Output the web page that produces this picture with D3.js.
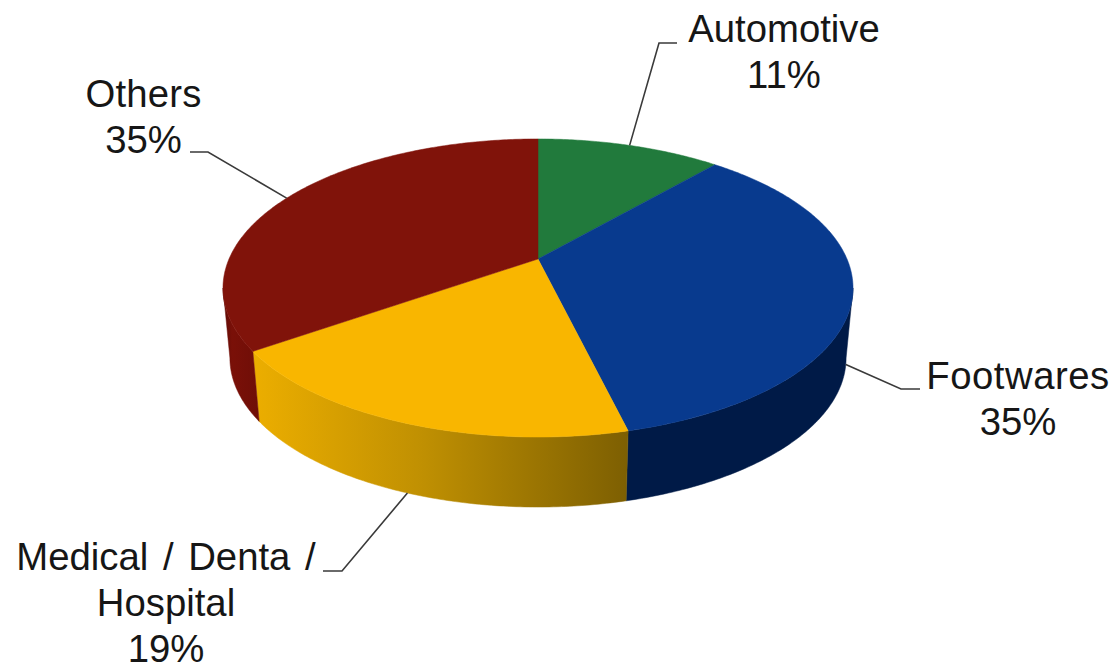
<!DOCTYPE html>
<html>
<head>
<meta charset="utf-8">
<script src="https://cdn.jsdelivr.net/npm/d3@7"></script>
<style>
html,body{margin:0;padding:0;background:#fff;overflow:hidden}
text{font-family:"Liberation Sans",Arial,sans-serif;font-size:38.3px;fill:#161616}
</style>
</head>
<body>
<svg id="chart" width="1117" height="666"></svg>
<script>
// Data
const categories = ["Automotive", "Footwares", "Medical / Denta /\nHospital", "Others"];
const shares = [11.4, 34.8, 19.1, 34.7];
const topColors = ["#217a3c", "#083a8e", "#f9b600", "#80130a"];

// Label placement (anchor x, first baseline, leader elbow and leader end)
const labelAnchors = [[784, 42], [1018, 389], [166, 570], [143.5, 107]];
const leaderElbows = [[[659, 43], [677, 43]], [[901, 389], [920, 389]], [[342, 571], [323, 571]], [[208, 152], [190, 152]]];
const nameTracking = [0, 0.5, 0, 0.2];
const nameWordGap = [0, 0, 4, 0];

// Perspective disc geometry
const cx = 538, cy = 259, depth = 70, bottomScale = 0.978;
const persp = 0.1946, radiusX = 309, radiusY = 143.4;

function project(theta, level) {
  const u = Math.sin(theta), v = -Math.cos(theta), w = 1 - persp * v;
  const k = level ? bottomScale : 1;
  return [cx + k * radiusX * u / w, cy + radiusY * v / w + (level ? depth : 0)];
}
function arcPoints(a0, a1, level) {
  const n = Math.max(2, Math.ceil((a1 - a0) * 90));
  return d3.range(n + 1).map(i => project(a0 + (a1 - a0) * i / n, level));
}

const svg = d3.select("#chart");
const pie = d3.pie().value(d => d).sort(null);
const arcs = pie(shares);
const line = d3.line();
const defs = svg.append("defs");

const sideStops = [
  null,
  [["0%", "#001a47"], ["100%", "#001a47"]],
  [["0%", "#ecae00"], ["45%", "#c09002"], ["100%", "#7d5f02"]],
  [["0%", "#5c0a05"], ["25%", "#7a1008"], ["100%", "#6f0e07"]]
];

// Front walls run between the disc's two horizontal extremes, so the closing
// edge of a wall at an extreme is the silhouette line
const frontStart = Math.acos(-persp), frontEnd = 2 * Math.PI - frontStart;
arcs.forEach((d, i) => {
  const a0 = Math.max(d.startAngle, frontStart), a1 = Math.min(d.endAngle, frontEnd);
  if (a1 <= a0 || !sideStops[i]) return;
  const top = arcPoints(a0, a1, 0), bottom = arcPoints(a0, a1, 1).reverse();
  const xs = top.concat(bottom).map(p => p[0]);
  const g = defs.append("linearGradient").attr("id", "side" + i)
    .attr("gradientUnits", "userSpaceOnUse")
    .attr("x1", d3.min(xs)).attr("x2", d3.max(xs)).attr("y1", 0).attr("y2", 0);
  sideStops[i].forEach(s => g.append("stop").attr("offset", s[0]).attr("stop-color", s[1]));
  svg.append("path").attr("d", line(top.concat(bottom)) + "Z")
    .attr("fill", `url(#side${i})`).attr("stroke", `url(#side${i})`).attr("stroke-width", 0.5);
});

// Top face
svg.selectAll("path.slice").data(arcs).join("path").attr("class", "slice")
  .attr("d", d => line([[cx, cy]].concat(arcPoints(d.startAngle, d.endAngle, 0))) + "Z")
  .attr("fill", (d, i) => topColors[i])
  .attr("stroke", (d, i) => topColors[i]).attr("stroke-width", 0.5);

// Leaders start at each slice's middle angle, on the outer rim
arcs.forEach((d, i) => {
  const mid = (d.startAngle + d.endAngle) / 2;
  const front = Math.cos(mid) < 0;
  svg.append("path")
    .attr("d", line([project(mid, front ? 1 : 0)].concat(leaderElbows[i])))
    .attr("fill", "none").attr("stroke", "#3a3a3a").attr("stroke-width", 1.6);
});

// Labels
categories.forEach((name, i) => {
  const names = name.split("\n");
  const lines = names.concat(Math.round(shares[i]) + "%");
  const t = svg.append("text").attr("text-anchor", "middle");
  lines.forEach((s, j) => t.append("tspan")
    .attr("x", labelAnchors[i][0]).attr("y", labelAnchors[i][1] + j * 46)
    .style("letter-spacing", j < names.length ? nameTracking[i] + "px" : null)
    .style("word-spacing", j < names.length ? nameWordGap[i] + "px" : null)
    .text(s));
});
</script>
</body>
</html>
